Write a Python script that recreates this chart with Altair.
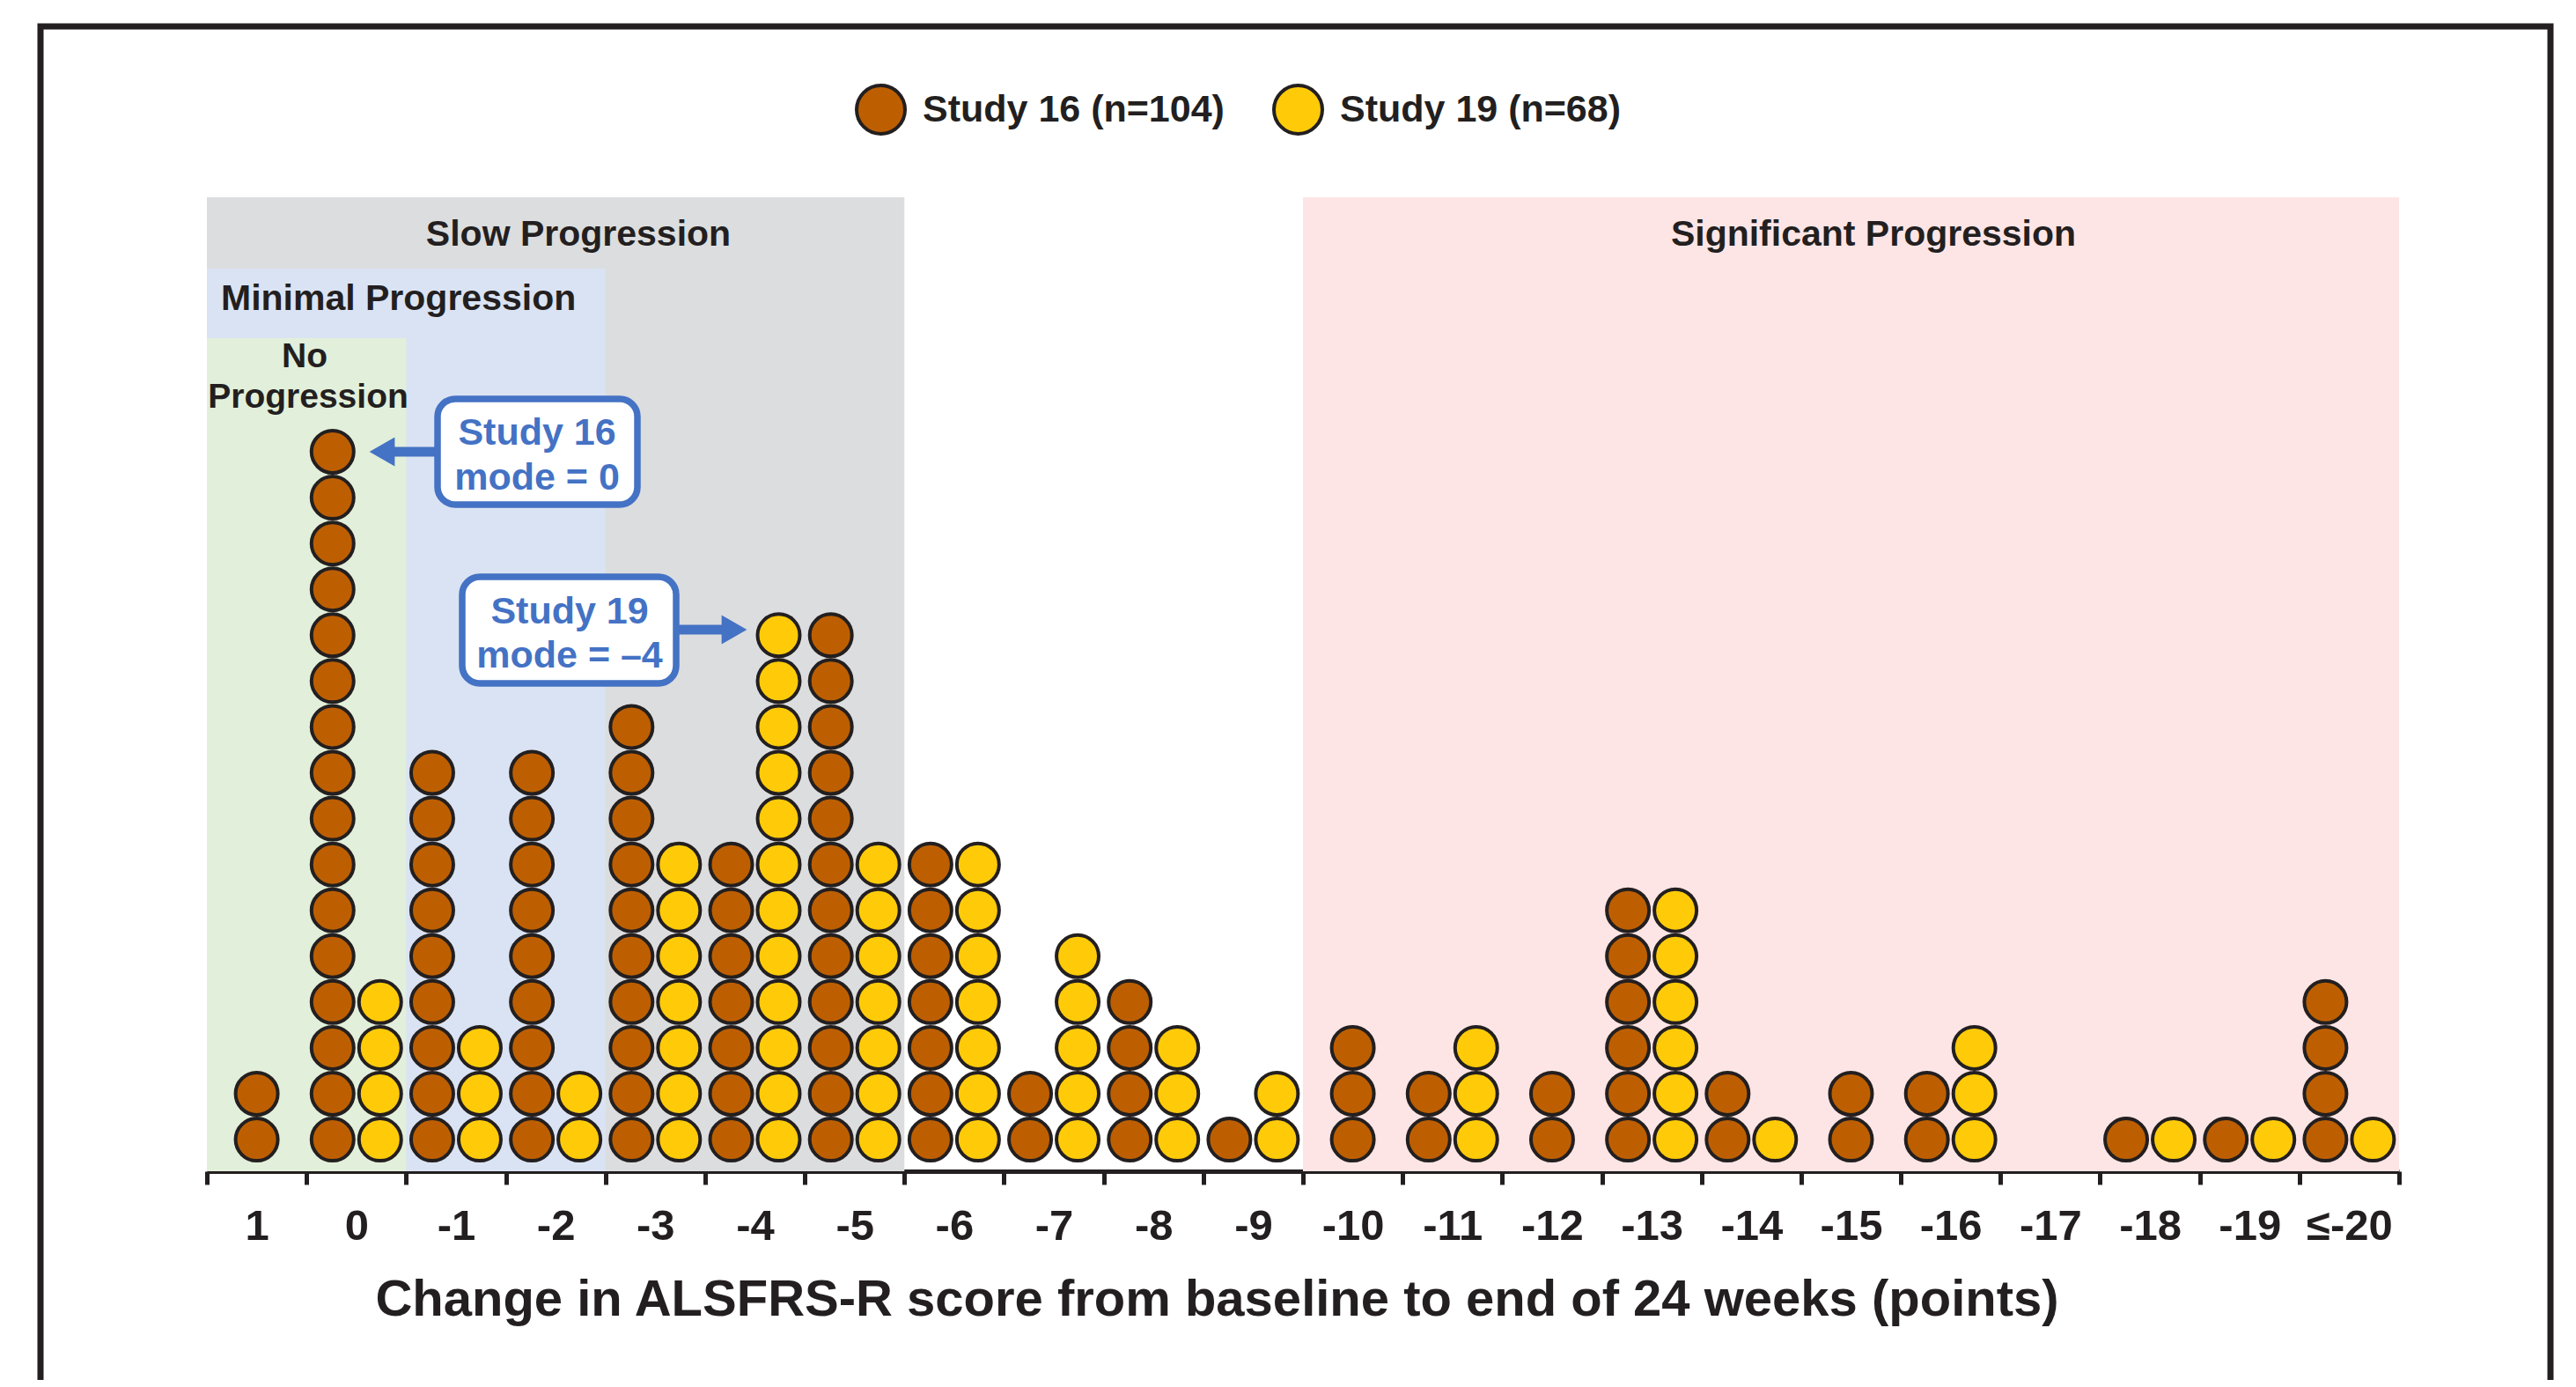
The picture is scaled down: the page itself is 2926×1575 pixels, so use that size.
import altair as alt
import pandas as pd

# ---------------- data ----------------
cats = ["1", "0", "-1", "-2", "-3", "-4", "-5", "-6", "-7", "-8", "-9", "-10",
        "-11", "-12", "-13", "-14", "-15", "-16", "-17", "-18", "-19", "≤-20"]
study16 = [2, 16, 9, 9, 10, 7, 12, 7, 2, 4, 1, 3, 2, 2, 6, 2, 2, 2, 0, 1, 1, 4]
study19 = [0, 4, 3, 2, 7, 12, 7, 7, 5, 3, 2, 0, 3, 0, 6, 1, 0, 3, 0, 1, 1, 1]
study_names = ["Study 16 (n=104)", "Study 19 (n=68)"]

region_names = ["Slow Progression", "Minimal Progression", "No Progression", "Significant Progression"]
region_start = ["1", "1", "1", "-10"]
region_end = ["-5", "-2", "0", "≤-20"]

axis_title = "Change in ALSFRS-R score from baseline to end of 24 weeks (points)"

# ---------------- styles ----------------
study_colors = ["#BD5F00", "#FFCB08"]
region_colors = {"Slow Progression": "#DCDDDF", "Minimal Progression": "#DAE3F3",
                 "No Progression": "#E2EFDA", "Significant Progression": "#FEE5E5"}
region_tops = {"Slow Progression": 0, "Minimal Progression": 81,
               "No Progression": 160, "Significant Progression": 0}
INK = "#231F20"
BLUE = "#4472C4"
FONT = "Liberation Sans"
W, H = 2490, 1106

# ---------------- tables ----------------
rows = []
for i, c in enumerate(cats):
    for name, counts in zip(study_names, [study16, study19]):
        for k in range(1, counts[i] + 1):
            rows.append({"idx": i, "cat": c, "study": name, "k": k})
dots = pd.DataFrame(rows)

regions = pd.DataFrame({
    "name": region_names,
    "x0": [cats.index(s) - 0.5 for s in region_start],
    "x1": [cats.index(e) + 0.5 for e in region_end],
})

one = pd.DataFrame({"n": [0]})

xscale = alt.Scale(domain=[-0.5, len(cats) - 0.5], nice=False, zero=False)
label_arr = "[" + ",".join("'" + c + "'" for c in cats) + "]"
xaxis = alt.Axis(
    values=[i - 0.5 for i in range(len(cats) + 1)],
    labelExpr=f"datum.value > {len(cats) - 1} ? '' : {label_arr}[round(datum.value + 0.5)]",
    labelOffset=W / len(cats) / 2,
    labelFont=FONT, labelFontSize=49, labelFontWeight="bold", labelColor=INK,
    labelPadding=23, labelOverlap=False, labelFlush=False,
    grid=False, domainColor=INK, domainWidth=5, tickColor=INK, tickWidth=5, tickSize=15,
    title=axis_title, titleFont=FONT, titleFontSize=58, titleFontWeight="bold", titleColor=INK,
    titleX=1147, titleY=163, titleAlign="center", titleBaseline="alphabetic", titleAngle=0,
)

layers = []

# background regions
for name in region_names:
    layers.append(
        alt.Chart(regions).transform_filter(alt.datum.name == name)
        .mark_rect(color=region_colors[name])
        .encode(x=alt.X("x0:Q", scale=xscale, axis=xaxis), x2="x1:Q",
                y=alt.value(region_tops[name]), y2=alt.value(H))
    )


def txt(text, x, y, size=41, color=INK, align="center"):
    return alt.Chart(one).mark_text(
        text=text, font=FONT, fontSize=size, fontWeight="bold", color=color,
        align=align, baseline="alphabetic"
    ).encode(x=alt.value(x), y=alt.value(y))


layers += [
    txt("Slow Progression", 422, 55),
    txt("Minimal Progression", 16, 128, align="left"),
    txt("No", 111, 193, size=39),
    txt("Progression", 115, 239, size=39),
    txt("Significant Progression", 1893, 55),
]

# dots
layers.append(
    alt.Chart(dots)
    .transform_joinaggregate(nst="distinct(study)", groupby=["idx"])
    .transform_calculate(
        xpos=f"datum.idx + (datum.nst > 1 ? (datum.study == '{study_names[0]}' ? -0.2385 : 0.2385) : 0)"
    )
    .mark_circle(size=2304, opacity=1, stroke=INK, strokeWidth=4)
    .encode(
        x=alt.X("xpos:Q", scale=xscale, axis=xaxis),
        y=alt.Y("k:Q", scale=alt.Scale(domain=[0.31, 21.55], nice=False, zero=False), axis=None),
        color=alt.Color(
            "study:N",
            scale=alt.Scale(domain=study_names, range=study_colors),
            legend=alt.Legend(
                title=None, orient="none", legendX=736, legendY=-129, direction="horizontal",
                symbolType="circle", symbolSize=3025, symbolStrokeColor=INK, symbolStrokeWidth=4,
                symbolOpacity=1, labelFont=FONT, labelFontSize=43, labelFontWeight="bold",
                labelColor=INK, labelOffset=18, labelLimit=0, columnPadding=48, padding=0,
            ),
        ),
    )
)


# annotation boxes
def box(x, x2, y, y2):
    return alt.Chart(one).mark_rect(
        fill="white", stroke=BLUE, strokeWidth=7.5, cornerRadius=20
    ).encode(x=alt.value(x), x2=alt.value(x2), y=alt.value(y), y2=alt.value(y2))


def shaft(x, x2, y):
    return alt.Chart(one).mark_rule(color=BLUE, strokeWidth=11).encode(
        x=alt.value(x), x2=alt.value(x2), y=alt.value(y))


def head(x, y, shape):
    return alt.Chart(one).mark_point(shape=shape, filled=True, size=1100, color=BLUE, opacity=1).encode(
        x=alt.value(x), y=alt.value(y))


layers += [
    shaft(205, 262, 289), head(199, 289, "triangle-left"),
    box(262, 489, 229, 349),
    txt("Study 16", 375, 281, size=43, color=BLUE),
    txt("mode = 0", 375, 332, size=43, color=BLUE),
    shaft(533, 593, 491), head(599, 491, "triangle-right"),
    box(290, 533, 431, 552),
    txt("Study 19", 412, 484, size=43, color=BLUE),
    txt("mode = –4", 412, 534, size=43, color=BLUE),
]

# outer frame
layers.append(
    alt.Chart(one).mark_rect(fillOpacity=0, stroke=INK, strokeWidth=7).encode(
        x=alt.value(-189), x2=alt.value(2662), y=alt.value(-194), y2=alt.value(1420))
)

chart = alt.layer(*layers).properties(
    width=W, height=H,
    padding={"left": 227, "top": 216, "right": 193, "bottom": 237},
    autosize=alt.AutoSizeParams(type="none"),
).configure_view(stroke=None)

chart.save("out.html", embed_options={"renderer": "svg", "actions": False})
